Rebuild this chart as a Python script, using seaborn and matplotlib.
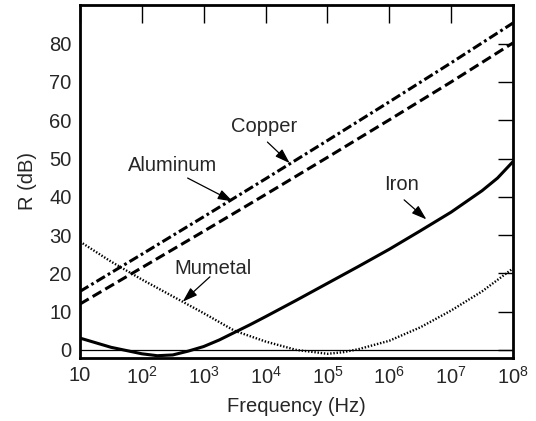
import numpy as np
import pandas as pd
import matplotlib
matplotlib.use("Agg")
import matplotlib.pyplot as plt
import seaborn as sns

# Straight-ish lines, read at each decade
freq_dec = [1e1, 1e2, 1e3, 1e4, 1e5, 1e6, 1e7, 1e8]
copper = [15.3, 25.0, 34.8, 44.7, 54.7, 64.8, 75.0, 85.4]
aluminum = [12.0, 21.5, 31.0, 40.6, 50.3, 60.1, 70.0, 80.2]

# Curved lines, read at finer steps
freq_iron = [1e1, 10**1.5, 1e2, 10**2.25, 10**2.5, 10**2.75, 1e3, 10**3.25, 10**3.5,
             10**3.75, 1e4, 10**4.5, 1e5, 10**5.5, 1e6, 10**6.5, 1e7, 10**7.5,
             10**7.75, 1e8]
iron = [3.1, 0.7, -1.0, -1.5, -1.3, -0.3, 0.9, 2.6, 4.6,
        6.6, 8.7, 13.0, 17.4, 21.8, 26.3, 31.1, 36.0, 41.6, 44.9, 49.2]

freq_mu = [1e1, 10**1.5, 1e2, 10**2.5, 1e3, 10**3.5, 1e4, 10**4.5, 1e5, 10**5.25,
           10**5.5, 1e6, 10**6.5, 1e7, 10**7.5, 1e8]
mumetal = [28.3, 23.1, 18.4, 14.0, 9.6, 5.0, 2.2, 0.0, -1.0, -0.6,
           0.2, 2.4, 5.9, 10.3, 15.3, 21.3]

x_ticks = [1e1, 1e2, 1e3, 1e4, 1e5, 1e6, 1e7, 1e8]
x_tick_labels = ["10", "$10^2$", "$10^3$", "$10^4$", "$10^5$", "$10^6$", "$10^7$", "$10^8$"]
y_ticks = [0, 10, 20, 30, 40, 50, 60, 70, 80]

sns.set_style("white")
plt.rcParams["font.family"] = ["Liberation Sans", "DejaVu Sans"]
plt.rcParams["mathtext.fontset"] = "custom"
plt.rcParams["mathtext.rm"] = "Liberation Sans"
plt.rcParams["mathtext.it"] = "Liberation Sans"

FS = 14.5
fig = plt.figure(figsize=(5.36, 4.21), dpi=100)
ax = fig.add_axes([80/536, 1 - 358/421, (513-80)/536, (358-5)/421])

lw = 2.2
sns.lineplot(x=freq_dec, y=copper, ax=ax, color="black", lw=lw,
             linestyle=(0, (3.2, 1.1, 0.9, 1.1)))
sns.lineplot(x=freq_dec, y=aluminum, ax=ax, color="black", lw=lw,
             linestyle=(0, (3.3, 1.5)))
sns.lineplot(x=freq_iron, y=iron, ax=ax, color="black", lw=lw)
sns.lineplot(x=freq_mu, y=mumetal, ax=ax, color="black", lw=1.7,
             linestyle=(0, (0.6, 0.75)))

ax.set_xscale("log")
ax.set_xlim(1e1, 1e8)
ax.set_ylim(-2.1, 90.1)
ax.axhline(0, color="black", lw=0.9, zorder=1)

ax.set_xticks(x_ticks)
ax.set_xticklabels(x_tick_labels)
ax.xaxis.set_minor_locator(matplotlib.ticker.NullLocator())
ax.set_yticks(y_ticks)

ax.tick_params(axis="both", which="major", direction="in", length=11, width=1.0,
               labelsize=FS, color="black", top=True, right=True, pad=6)
for t in ax.xaxis.get_major_ticks():
    t.tick2line.set_markersize(13)
for s in ax.spines.values():
    s.set_linewidth(2.0)
    s.set_color("black")

ax.set_xlabel("Frequency (Hz)", fontsize=FS, labelpad=6)
ax.set_ylabel("R (dB)", fontsize=FS, labelpad=9)

ap = dict(arrowstyle="-|>,head_length=0.9,head_width=0.3", color="black",
          lw=0.9, mutation_scale=10, shrinkA=0, shrinkB=0)

labels = [
    ("Copper", (10**3.98, 58.4), (10**4.03, 54.3), (10**4.39, 48.8)),
    ("Aluminum", (10**2.5, 48.3), (10**2.74, 44.9), (10**3.47, 38.8)),
    ("Iron", (10**6.19, 43.1), (10**6.24, 39.2), (10**6.6, 34.1)),
    ("Mumetal", (10**3.15, 21.4), (10**3.1, 19.1), (10**2.66, 12.6)),
]
for name, tpos, tail, tip in labels:
    ax.text(tpos[0], tpos[1], name, fontsize=FS, ha="center", va="center")
    ax.annotate("", xy=tip, xytext=tail, arrowprops=ap)

fig.savefig("out.png", dpi=100)
